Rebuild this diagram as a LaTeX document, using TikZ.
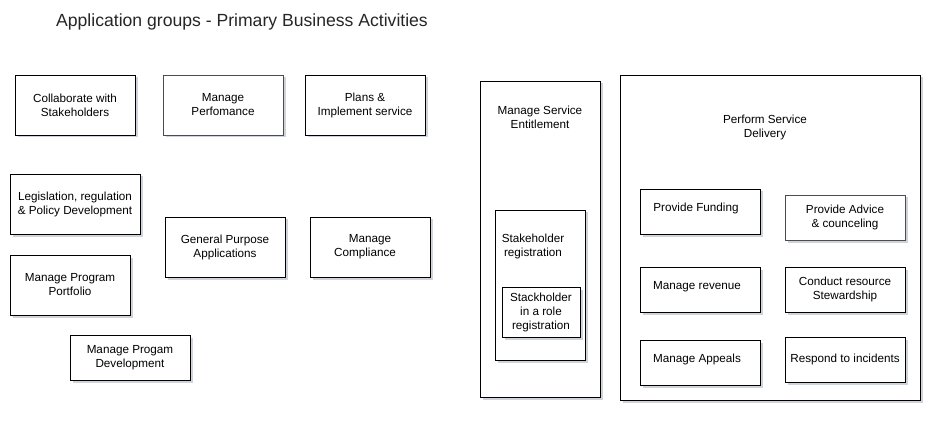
\documentclass[tikz,border=0pt]{standalone}
\usepackage{fontspec}
\setmainfont{Liberation Sans}
\usetikzlibrary{shadows}
\definecolor{shadowgray}{RGB}{120,130,150}

\begin{document}
\begin{tikzpicture}[x=1pt,y=-1pt]
\tikzstyle{box}=[draw,line width=0.8pt,fill=white,align=center,inner sep=2pt,font=\fontsize{11.7}{14}\selectfont,drop shadow={shadow xshift=2.5pt,shadow yshift=-2.5pt,opacity=0.35,fill=shadowgray}]
\tikzstyle{txt}=[align=center,inner sep=0pt,font=\fontsize{11.7}{14}\selectfont]
\tikzstyle{heading}=[font=\fontsize{17.6}{21}\selectfont]
\useasboundingbox (0,0) rectangle (942,422);

\node[heading,text=black!85] (title) at (242,22) {Application groups - Primary Business Activities};

\node[box,minimum width=120pt,minimum height=60pt] (collab) at (75,105) {Collaborate with\\Stakeholders};
\node[box,draw=black!70,minimum width=120pt,minimum height=60pt] (perf) at (223,105) {Manage\\Perfomance};
\node[box,minimum width=120pt,minimum height=60pt] (plans) at (365,105) {Plans \&\\Implement service};
\node[box,minimum width=130pt,minimum height=60pt] (legis) at (75,204) {Legislation, regulation\\\& Policy Development};
\node[box,minimum width=120pt,minimum height=60pt] (genpurp) at (225,247) {General Purpose\\Applications};
\node[box,minimum width=120pt,minimum height=60pt] (compl) at (370,247) {Manage\\Compliance\hspace*{10pt}};
\node[box,minimum width=120pt,minimum height=60pt] (portf) at (70,285) {Manage Program\\Portfolio};
\node[box,minimum width=120pt,minimum height=45pt] (progdev) at (130,357.5) {Manage Progam\\Development};

\node[box,minimum width=120pt,minimum height=316pt] (entitle) at (540,239) {};
\node[txt] (entitle-lbl) at (540,117) {Manage Service\\Entitlement};
\node[box,minimum width=90pt,minimum height=150pt] (streg) at (540,285) {};
\node[txt] (streg-lbl) at (533,246) {Stakeholder\\registration};
\node[box,minimum width=78pt,minimum height=50pt] (role) at (541,312) {Stackholder\\in a role\\registration};

\node[box,minimum width=300pt,minimum height=325pt] (delivery) at (770,237.5) {};
\node[txt] (delivery-lbl) at (765,127) {Perform Service\\Delivery};
\node[box,minimum width=120pt,minimum height=45pt] (funding) at (700,211.5) {\raisebox{3.5pt}[\height][\depth]{Provide Funding\hspace*{8pt}}};
\node[box,draw=black!70,minimum width=120pt,minimum height=45pt] (advice) at (845,217.5) {Provide Advice\\\& counceling};
\node[box,minimum width=120pt,minimum height=45pt] (revenue) at (700,289.5) {\raisebox{2.5pt}[\height][\depth]{Manage revenue\hspace*{6pt}}};
\node[box,minimum width=120pt,minimum height=45pt] (conduct) at (845,289.5) {Conduct resource\\Stewardship};
\node[box,minimum width=120pt,minimum height=45pt] (appeals) at (700,362.5) {\raisebox{3.5pt}[\height][\depth]{Manage Appeals\hspace*{6pt}}};
\node[box,minimum width=120pt,minimum height=45pt] (respond) at (845,359.5) {Respond to incidents};
\end{tikzpicture}
\end{document}
